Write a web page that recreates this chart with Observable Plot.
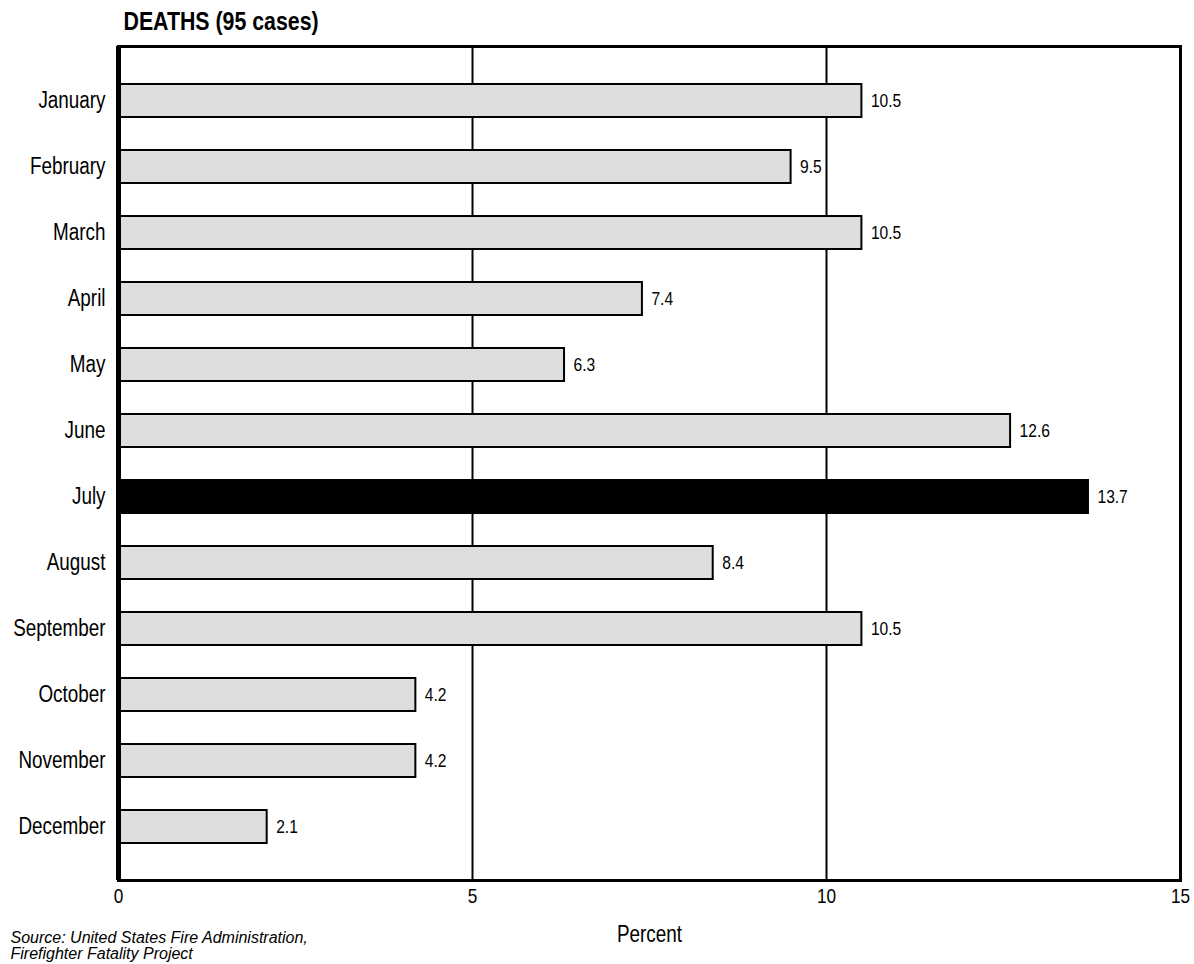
<!DOCTYPE html>
<html><head><meta charset="utf-8">
<script src="https://cdn.jsdelivr.net/npm/d3@7"></script>
<script src="https://cdn.jsdelivr.net/npm/@observablehq/plot@0.6"></script>
<style>
body{margin:0;background:#fff;}
svg{display:block;}
</style></head>
<body><div id="chart"></div>
<script>
const months = ["January","February","March","April","May","June","July","August","September","October","November","December"];
const percents = [10.5, 9.5, 10.5, 7.4, 6.3, 12.6, 13.7, 8.4, 10.5, 4.2, 4.2, 2.1];
const highlight = "July";
const xTicks = [0, 5, 10, 15];
const title = "DEATHS (95 cases)";
const xLabel = "Percent";
const source = ["Source: United States Fire Administration,", "Firefighter Fatality Project"];

const data = months.map((m, i) => ({month: m, value: percents[i]}));
const font = "'Liberation Sans',Arial,Helvetica,sans-serif";

const plot = Plot.plot({
  width: 1194,
  height: 964,
  marginLeft: 118,
  marginRight: 14,
  marginTop: 46,
  marginBottom: 84,
  style: {fontFamily: font, background: "#fff", color: "#000"},
  x: {domain: [0, 15], ticks: xTicks},
  y: {domain: months, padding: 0.5, insetTop: 2, insetBottom: 2},
  marks: [
    Plot.ruleX([5, 10], {stroke: "#000", strokeWidth: 2}),
    Plot.barX(data, {y: "month", x: "value", fill: d => d.month === highlight ? "#000" : "#dedede", stroke: "#000", strokeWidth: 2}),
    Plot.text(data, {y: "month", x: "value", text: d => d.value.toFixed(1), textAnchor: "start", dx: 9, fontSize: 19, fill: "#000", className: "squeeze"}),
    Plot.frame({stroke: "#000", strokeWidth: 3}),
    Plot.ruleX([0], {stroke: "#000", strokeWidth: 5}),
    Plot.axisY({tickSize: 0, tickPadding: 13, fontSize: 23, label: null, className: "squeeze"}),
    Plot.axisX({ticks: xTicks, tickSize: 0, tickPadding: 8, fontSize: 21, label: null, tickFormat: d => String(d), className: "squeeze"}),
    Plot.text([title], {frameAnchor: "top-left", lineAnchor: "bottom", dy: -17, dx: 5, text: d => d, fontSize: 26, fontWeight: "bold", textAnchor: "start", fill: "#000", className: "squeeze"}),
    Plot.text([xLabel], {frameAnchor: "bottom", lineAnchor: "bottom", dy: 61, text: d => d, fontSize: 23, fill: "#000", className: "squeeze"}),
    Plot.text([source[0]], {frameAnchor: "bottom-left", lineAnchor: "bottom", dx: -108, dy: 62, text: d => d, fontSize: 16, fontStyle: "italic", textAnchor: "start", fill: "#000"}),
    Plot.text([source[1]], {frameAnchor: "bottom-left", lineAnchor: "bottom", dx: -108, dy: 78, text: d => d, fontSize: 16, fontStyle: "italic", textAnchor: "start", fill: "#000"})
  ]
});
document.getElementById("chart").appendChild(plot);
// condensed typeface look: squeeze glyphs horizontally
plot.querySelectorAll("g[class*='squeeze'] text").forEach(t => {
  const len = t.getComputedTextLength();
  if (len > 0) {
    t.setAttribute("textLength", (len * 0.82).toFixed(2));
    t.setAttribute("lengthAdjust", "spacingAndGlyphs");
  }
});
</script>
</body></html>
